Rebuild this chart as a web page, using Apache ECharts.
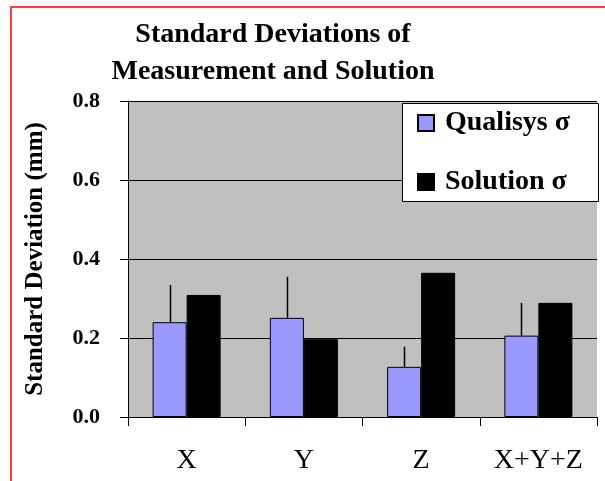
<!DOCTYPE html>
<html>
<head>
<meta charset="utf-8">
<script src="https://cdn.jsdelivr.net/npm/echarts@6/dist/echarts.min.js"></script>
<style>
html,body{margin:0;padding:0;background:#fff;}
#c{width:605px;height:481px;}
</style>
</head>
<body>
<div id="c"></div>
<script>
var categories = ['X', 'Y', 'Z', 'X+Y+Z'];
var qualisys = [0.240, 0.251, 0.127, 0.206];
var solution = [0.309, 0.197, 0.365, 0.289];
var qualisysUpper = [0.334, 0.355, 0.178, 0.289];
var yTicks = [0, 0.2, 0.4, 0.6, 0.8];

var FONT = '"Liberation Serif", "Times New Roman", serif';
var chart = echarts.init(document.getElementById('c'), null, {renderer: 'canvas'});

var errData = categories.map(function (c, i) { return [i, qualisys[i], qualisysUpper[i]]; });

chart.setOption({
  backgroundColor: '#ffffff',
  animation: false,
  title: {
    text: 'Standard Deviations of\nMeasurement and Solution',
    left: 268, top: 11, textAlign: 'center',
    textStyle: {fontFamily: FONT, fontSize: 28, fontWeight: 'bold', color: '#000', lineHeight: 37}
  },
  graphic: [
    {type: 'rect', z: 100, silent: true,
     shape: {x: 11, y: 7, width: 700, height: 600},
     style: {fill: 'none', stroke: '#ff3b3b', lineWidth: 2}},
    {type: 'rect', z: 5, silent: true,
     shape: {x: 402.5, y: 103.5, width: 196, height: 98},
     style: {fill: '#ffffff', stroke: '#000', lineWidth: 1}}
  ],
  legend: {
    data: ['Qualisys σ', 'Solution σ'],
    orient: 'vertical', left: 417, top: 109, z: 10,
    itemWidth: 16, itemHeight: 16, itemGap: 31, padding: 0,
    icon: 'rect',
    textStyle: {fontFamily: FONT, fontSize: 28, fontWeight: 'bold', color: '#000', padding: [0, 0, 0, 6]}
  },
  grid: {left: 128, right: 8, top: 101, bottom: 64, show: true, backgroundColor: '#c0c0c0', borderWidth: 0},
  xAxis: {
    type: 'category', data: categories,
    axisLine: {lineStyle: {color: '#000', width: 1}},
    axisTick: {show: true, length: 9, lineStyle: {color: '#000'}},
    axisLabel: {fontFamily: FONT, fontSize: 28, color: '#000', margin: 30}
  },
  yAxis: {
    type: 'value', min: 0, max: 0.8, interval: 0.2,
    name: 'Standard Deviation (mm)', nameLocation: 'middle', nameGap: 80,
    nameTextStyle: {fontFamily: FONT, fontSize: 25, fontWeight: 'bold', color: '#000'},
    axisLine: {show: true, lineStyle: {color: '#000', width: 1}},
    axisTick: {show: true, length: 8, lineStyle: {color: '#000'}},
    axisLabel: {fontFamily: FONT, fontSize: 22, fontWeight: 'bold', color: '#000', margin: 28,
      formatter: function (v) { return v.toFixed(1); }},
    splitLine: {show: true, lineStyle: {color: '#000', width: 1}}
  },
  series: [
    {name: 'Qualisys σ', type: 'bar', data: qualisys, barGap: '0%', barCategoryGap: '42%',
     itemStyle: {color: '#9999ff', borderColor: '#000', borderWidth: 1}},
    {name: 'Solution σ', type: 'bar', data: solution, barGap: '0%', barCategoryGap: '42%',
     itemStyle: {color: '#000000', borderColor: '#000', borderWidth: 1}},
    {name: 'err', type: 'custom', data: errData, z: 3,
     encode: {x: 0, y: [1, 2]},
     renderItem: function (params, api) {
       var idx = api.value(0);
       var a = api.coord([idx, api.value(1)]);
       var b = api.coord([idx, api.value(2)]);
       var band = api.size([1, 0])[0];
       var x = Math.round(a[0] - band * 0.145) + 0.5;
       return {type: 'line', shape: {x1: x, y1: a[1], x2: x, y2: b[1]},
               style: {stroke: '#000', lineWidth: 1.5}};
     }}
  ]
});
</script>
</body>
</html>
